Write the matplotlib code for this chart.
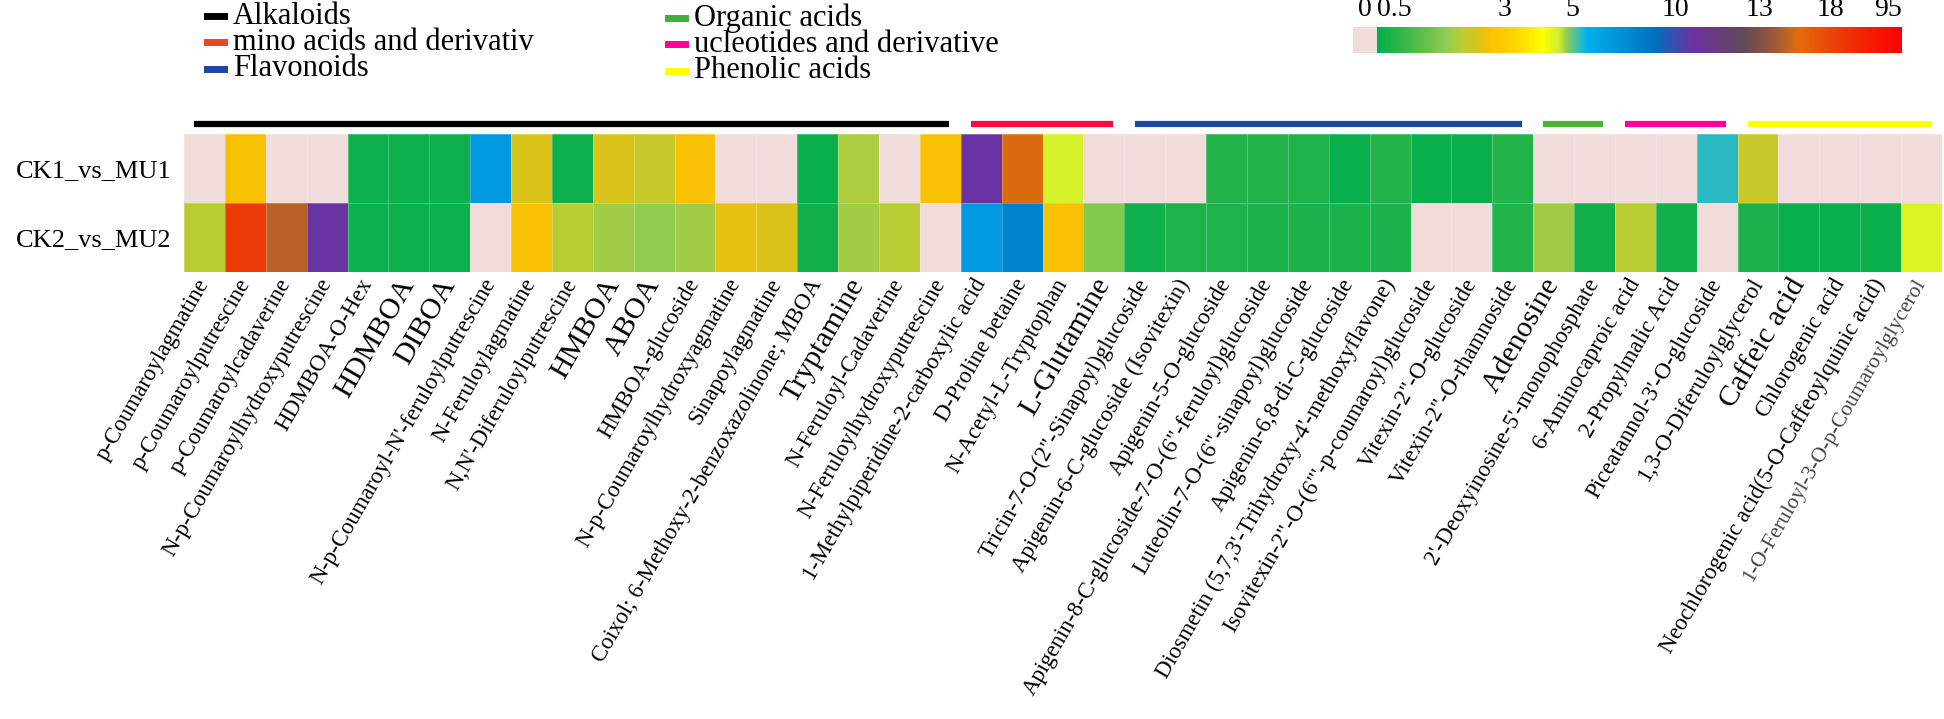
import numpy as np
import matplotlib
matplotlib.use('Agg')
import matplotlib.pyplot as plt
import matplotlib.transforms as mtransforms
from matplotlib.colors import LinearSegmentedColormap
from matplotlib.lines import Line2D
from matplotlib.patches import Rectangle

plt.rcParams['font.family'] = ['Liberation Serif', 'DejaVu Serif']

comparisons = ['CK1_vs_MU1', 'CK2_vs_MU2']

compounds = [
    'p-Coumaroylagmatine', 'p-Coumaroylputrescine', 'p-Coumaroylcadaverine',
    'N-p-Coumaroylhydroxyputrescine', 'HDMBOA-O-Hex', 'HDMBOA', 'DIBOA',
    "N-p-Coumaroyl-N'-feruloylputrescine", 'N-Feruloylagmatine',
    "N,N'-Diferuloylputrescine", 'HMBOA', 'ABOA', 'HMBOA-glucoside',
    'N-p-Coumaroylhydroxyagmatine', 'Sinapoylagmatine',
    'Coixol; 6-Methoxy-2-benzoxazolinone; MBOA', 'Tryptamine',
    'N-Feruloyl-Cadaverine', 'N-Feruloylhydroxyputrescine',
    '1-Methylpiperidine-2-carboxylic acid', 'D-Proline betaine',
    'N-Acetyl-L-Tryptophan', 'L-Glutamine',
    'Tricin-7-O-(2"-Sinapoyl)glucoside', 'Apigenin-6-C-glucoside (Isovitexin)',
    'Apigenin-5-O-glucoside',
    'Apigenin-8-C-glucoside-7-O-(6"-feruloyl)glucoside',
    'Luteolin-7-O-(6"-sinapoyl)glucoside', 'Apigenin-6,8-di-C-glucoside',
    "Diosmetin (5,7,3'-Trihydroxy-4'-methoxyflavone)",
    'Isovitexin-2"-O-(6"\'-p-coumaroyl)glucoside', 'Vitexin-2"-O-glucoside',
    'Vitexin-2"-O-rhamnoside', 'Adenosine',
    "2'-Deoxyinosine-5'-monophosphate", '6-Aminocaproic acid',
    '2-Propylmalic Acid', "Piceatannol-3'-O-glucoside",
    '1,3-O-Diferuloylglycerol', 'Caffeic acid', 'Chlorogenic acid',
    'Neochlorogenic acid(5-O-Caffeoylquinic acid)',
    '1-O-Feruloyl-3-O-p-Coumaroylglycerol',
]
big_labels = ['HDMBOA', 'DIBOA', 'HMBOA', 'ABOA', 'Tryptamine', 'L-Glutamine',
              'Adenosine', 'Caffeic acid']

group_names = ['Alkaloids', 'mino acids and derivativ', 'Flavonoids',
               'Organic acids', 'ucleotides and derivative', 'Phenolic acids']
group_sizes = [19, 4, 10, 2, 3, 5]
group_colors = ['#000000', '#FF0A3C', '#1C48A0', '#4DB236', '#FF0099', '#FFFF00']
legend_colors = ['#000000', '#E8472A', '#1C48A0', '#3CAF3C', '#FF0099', '#FFFF00']

# fold change per compound, 0 = not detected
ck1_mu1 = [0, 2.7, 0, 0, 0.6, 0.6, 0.6, 7.0, 2.5, 0.6, 2.5, 2.28, 2.7, 0, 0,
           0.55, 2.07, 0, 2.7, 10.6, 15.6, 4.55, 0, 0, 0, 0.81, 0.81, 0.76,
           0.55, 0.81, 0.55, 0.55, 0.81, 0, 0, 0, 0, 5.38, 2.28, 0, 0, 0, 0]
ck2_mu2 = [2.17, 30, 14.8, 10.6, 0.6, 0.6, 0.6, 0, 2.7, 2.17, 1.96, 1.86,
           1.96, 2.59, 2.49, 0.66, 1.96, 2.17, 0, 6.92, 7.97, 2.7, 1.75, 0.6,
           0.76, 0.76, 0.71, 0.71, 0.71, 0.71, 0, 0, 0.81, 1.96, 0.66, 2.17,
           0.66, 0, 0.71, 0.55, 0.55, 0.55, 4.45]

# non-linear colour scale: tick values and their place along the gradient
scale_ticks = [0.5, 3, 5, 10, 13, 18, 95]
scale_pos = [0, 0.242, 0.372, 0.569, 0.729, 0.863, 0.973]
zero_color = '#F0DCDB'
cmap = LinearSegmentedColormap.from_list('fc', [
    (0.0, '#05AE4A'), (0.10, '#6EC24C'), (0.13, '#92CE50'), (0.165, '#C0CC30'),
    (0.19, '#D8C41C'), (0.215, '#FEC000'), (0.26, '#FFD400'), (0.313, '#FFFF00'),
    (0.345, '#D0F030'), (0.36, '#92D050'), (0.40, '#00B0F0'), (0.45, '#0098DE'),
    (0.53, '#0070C0'), (0.604, '#7030A0'), (0.70, '#604A58'), (0.76, '#A05A38'),
    (0.805, '#E46C0A'), (0.89, '#EE3608'), (1.0, '#FF0000')])
cmap.set_under(zero_color)

W, H = 1944, 719
fig = plt.figure(figsize=(W / 100, H / 100), dpi=100)

# ---- heatmap ----
ax = fig.add_axes([184 / W, 1 - 272 / H, (1942 - 184) / W, (272 - 134) / H])
vals = np.array([ck1_mu1, ck2_mu2], dtype=float)
pos = np.interp(vals, scale_ticks, scale_pos)
pos[vals == 0] = -1
ax.pcolormesh(pos, cmap=cmap, vmin=0, vmax=1,
              edgecolor=(1, 1, 1, 0.25), linewidth=0.4)
ax.set_xlim(0, len(compounds))
ax.set_ylim(2, 0)
for s in ax.spines.values():
    s.set_visible(False)
ax.tick_params(length=0)
ax.set_yticks([0.5, 1.5])
ax.set_yticklabels(comparisons, fontsize=19)
ax.tick_params(axis='y', pad=9)
ax.set_xticks(np.arange(len(compounds)) + 0.5)
ax.set_xticklabels(compounds, rotation=60, ha='right', va='center',
                   rotation_mode='anchor', fontsize=16.5)
ax.tick_params(axis='x', pad=6)
for t in ax.get_xticklabels():
    if t.get_text() in big_labels:
        t.set_fontsize(21.5)
last = ax.get_xticklabels()[-1]
last.set_fontsize(15.5)
last.set_color('#444444')

# group bars above the heatmap
trans = mtransforms.blended_transform_factory(ax.transData, ax.transAxes)
start = 0
for size, col in zip(group_sizes, group_colors):
    ax.plot([start + 0.25, start + size - 0.28], [1.072, 1.072], color=col,
            lw=4.5, solid_capstyle='butt', transform=trans, clip_on=False)
    start += size

# ---- legend ----
leg_x = [(207, 224, 233), (668, 685, 694)]
leg_y = [[16, 42, 69], [18, 44, 71]]
for i, (name, col) in enumerate(zip(group_names, legend_colors)):
    c, r = divmod(i, 3)
    x0, x1, xt = leg_x[c]
    y = 1 - leg_y[c][r] / H
    fig.add_artist(Line2D([x0 / W, x1 / W], [y, y], color=col, lw=5,
                          transform=fig.transFigure))
    fig.text(xt / W, y, name, fontsize=22, va='center', ha='left')

# ---- colour bar ----
bar_l, bar_r, pink_r = 1353, 1902, 1377
cax = fig.add_axes([bar_l / W, 1 - 53 / H, (bar_r - bar_l) / W, 26 / H])
pink_w = (pink_r - bar_l) / (bar_r - pink_r)
cax.imshow(np.linspace(0, 1, 512)[None, :], cmap=cmap, aspect='auto',
           extent=(0, 1, 0, 1))
cax.add_patch(Rectangle((-pink_w, 0), pink_w, 1, color=zero_color, lw=0))
cax.set_xlim(-pink_w, 1)
cax.set_ylim(0, 1)
cax.axis('off')
cax.text(-pink_w / 2, 1.2, '0', ha='center', va='bottom', fontsize=20)
for v, p in zip(scale_ticks, scale_pos):
    ha = 'left' if v == 0.5 else 'center'
    cax.text(p, 1.2, f'{v:g}', ha=ha, va='bottom', fontsize=20)

fig.savefig('out.png', dpi=100)
